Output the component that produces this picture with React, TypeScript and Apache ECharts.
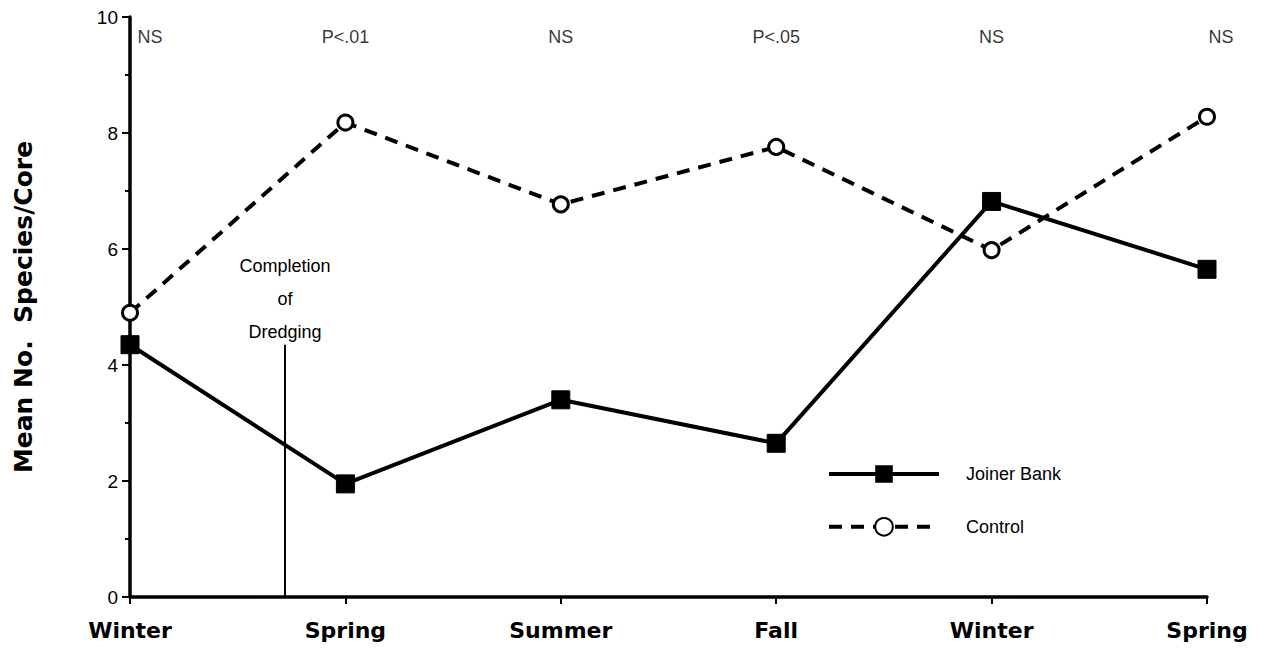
import React, { useEffect, useRef } from "react";
import * as echarts from "echarts";

const seasons = ["Winter", "Spring", "Summer", "Fall", "Winter", "Spring"];
const joinerBank = [4.35, 1.95, 3.4, 2.65, 6.82, 5.65];
const control = [4.9, 8.18, 6.77, 7.76, 5.98, 8.28];
const significance = ["NS", "P<.01", "NS", "P<.05", "NS", "NS"];
const dredgingX = 0.72;
const dredgingTop = 4.35;
const yTicks = [0, 2, 4, 6, 8, 10];

export default function App() {
  const ref = useRef<HTMLDivElement>(null);
  useEffect(() => {
    if (!ref.current) return;
    const chart = echarts.init(ref.current, null, { renderer: "svg" });
    const font = "'Liberation Sans', Arial, sans-serif";
    const boldFont = "'DejaVu Sans', sans-serif";
    chart.setOption({
      animation: false,
      backgroundColor: "#ffffff",
      grid: { left: 130, right: 58, top: 17, bottom: 51, containLabel: false },
      legend: {
        orient: "vertical",
        left: 822,
        top: 460,
        itemWidth: 110,
        itemHeight: 22,
        itemGap: 34,
        lineStyle: { width: 4 },
        textStyle: { fontFamily: font, fontSize: 18, color: "#000", padding: [0, 0, 0, 22] },
        data: ["Joiner Bank", "Control"],
      },
      xAxis: {
        type: "value",
        min: 0,
        max: 5,
        interval: 1,
        splitLine: { show: false },
        axisLine: { lineStyle: { color: "#000", width: 3.5 } },
        axisTick: { show: true, length: 7, lineStyle: { color: "#000", width: 2 } },
        axisLabel: {
          margin: 22,
          fontFamily: boldFont,
          fontWeight: "bold",
          fontSize: 22,
          color: "#000",
          formatter: (v: number) => seasons[Math.round(v)] ?? "",
        },
      },
      yAxis: {
        type: "value",
        min: 0,
        max: 10,
        interval: 2,
        name: "Mean No.  Species/Core",
        nameLocation: "middle",
        nameGap: 94,
        nameRotate: 90,
        nameTextStyle: {
          fontFamily: boldFont,
          fontWeight: "bold",
          fontSize: 25,
          color: "#000",
        },
        splitLine: { show: false },
        axisLine: { show: true, lineStyle: { color: "#000", width: 3.5 } },
        axisTick: { show: true, length: 8, lineStyle: { color: "#000", width: 2 } },
        minorTick: { show: true, splitNumber: 2, length: 5, lineStyle: { color: "#000", width: 2 } },
        axisLabel: {
          margin: 12,
          fontFamily: font,
          fontSize: 19,
          color: "#000",
          formatter: (v: number) => (yTicks.includes(v) ? String(v) : ""),
        },
      },
      series: [
        {
          name: "Joiner Bank",
          type: "line",
          data: joinerBank.map((v, i) => [i, v]),
          symbol: "rect",
          symbolSize: 18,
          lineStyle: { color: "#000", width: 4 },
          itemStyle: { color: "#000", borderColor: "#000" },
          z: 3,
          markLine: {
            silent: true,
            symbol: "none",
            lineStyle: { color: "#000", width: 2, type: "solid" },
            label: {
              show: true,
              position: "end",
              formatter: "Completion\nof\nDredging",
              fontFamily: font,
              fontSize: 18,
              lineHeight: 33,
              color: "#000",
              distance: -4,
            },
            data: [
              [
                { coord: [dredgingX, 0] },
                { coord: [dredgingX, dredgingTop] },
              ],
            ],
          },
        },
        {
          name: "Control",
          type: "line",
          data: control.map((v, i) => [i, v]),
          symbol: "circle",
          symbolSize: 15,
          lineStyle: { color: "#000", width: 4, type: [13, 9] },
          itemStyle: { color: "#fff", borderColor: "#000", borderWidth: 3 },
          z: 4,
        },
        {
          name: "sig",
          type: "scatter",
          data: significance.map((s, i) => [i, 9.65, s]),
          symbolSize: 0,
          silent: true,
          label: {
            show: true,
            position: "inside",
            formatter: (p: any) => p.data[2],
            fontFamily: font,
            fontSize: 18,
            color: "#000",
          },
          labelLayout: (p: any) => (p.dataIndex === 0 ? { dx: 20 } : p.dataIndex === 5 ? { dx: 14 } : {}),
        },
      ],
    });
    return () => chart.dispose();
  }, []);
  return <div ref={ref} style={{ width: 1265, height: 648, position: "absolute", left: 0, top: 0 }} />;
}
